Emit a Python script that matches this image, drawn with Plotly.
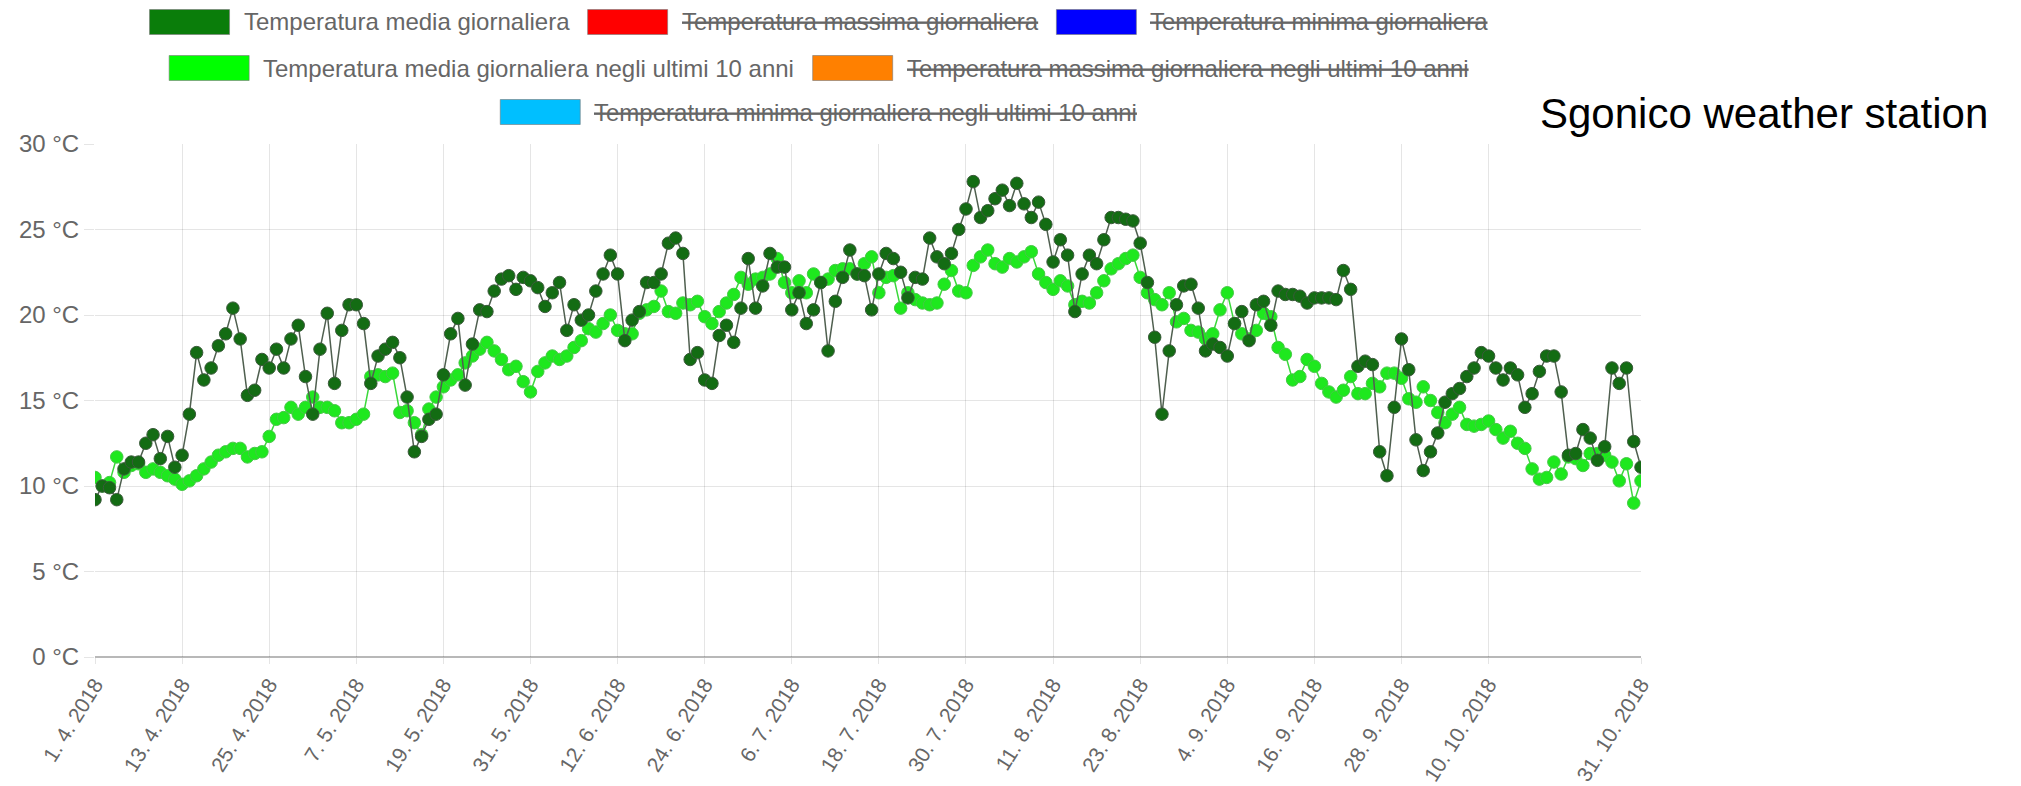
import pandas as pd
import plotly.graph_objects as go

# ── Data ────────────────────────────────────────────────────────────────────
start_date = "2018-04-01"
end_date = "2018-10-31"

temp_media = [
    9.2, 10.0, 9.9, 9.2, 11.0, 11.4, 11.4, 12.5, 13.0, 11.6,
    12.9, 11.1, 11.8, 14.2, 17.8, 16.2, 16.9, 18.2, 18.9, 20.4,
    18.6, 15.3, 15.6, 17.4, 16.9, 18.0, 16.9, 18.6, 19.4, 16.4,
    14.2, 18.0, 20.1, 16.0, 19.1, 20.6, 20.6, 19.5, 16.0, 17.6,
    18.0, 18.4, 17.5, 15.2, 12.0, 12.9, 13.9, 14.2, 16.5, 18.9,
    19.8, 15.9, 18.3, 20.3, 20.2, 21.4, 22.1, 22.3, 21.5, 22.2,
    22.0, 21.6, 20.5, 21.3, 21.9, 19.1, 20.6, 19.7, 20.0, 21.4,
    22.4, 23.5, 22.4, 18.5, 19.7, 20.2, 21.9, 21.9, 22.4, 24.2,
    24.5, 23.6, 17.4, 17.8, 16.2, 16.0, 18.8, 19.4, 18.4, 20.4,
    23.3, 20.4, 21.7, 23.6, 22.8, 22.8, 20.3, 21.3, 19.5, 20.3,
    21.9, 17.9, 20.8, 22.2, 23.8, 22.4, 22.3, 20.3, 22.4, 23.6,
    23.3, 22.5, 21.0, 22.2, 22.1, 24.5, 23.4, 23.0, 23.6, 25.0,
    26.2, 27.8, 25.7, 26.1, 26.8, 27.3, 26.4, 27.7, 26.5, 25.7,
    26.6, 25.3, 23.1, 24.4, 23.5, 20.2, 22.4, 23.5, 23.0, 24.4,
    25.7, 25.7, 25.6, 25.5, 24.2, 21.9, 18.7, 14.2, 17.9, 20.6,
    21.7, 21.8, 20.4, 17.9, 18.3, 18.1, 17.6, 19.5, 20.2, 18.5,
    20.6, 20.8, 19.4, 21.4, 21.2, 21.2, 21.1, 20.7, 21.0, 21.0,
    21.0, 20.9, 22.6, 21.5, 17.0, 17.3, 17.1, 12.0, 10.6, 14.6,
    18.6, 16.8, 12.7, 10.9, 12.0, 13.1, 14.9, 15.4, 15.7, 16.4,
    16.9, 17.8, 17.6, 16.9, 16.2, 16.9, 16.5, 14.6, 15.4, 16.7,
    17.6, 17.6, 15.5, 11.8, 11.9, 13.3, 12.8, 11.5, 12.3, 16.9,
    16.0, 16.9, 12.6, 11.1,
]

temp_media_10anni = [
    10.5, 10.0, 10.2, 11.7, 10.8, 11.2, 11.3, 10.8, 11.0, 10.8,
    10.6, 10.4, 10.1, 10.3, 10.6, 11.0, 11.4, 11.8, 12.0, 12.2,
    12.2, 11.7, 11.9, 12.0, 12.9, 13.9, 14.0, 14.6, 14.2, 14.6,
    15.2, 14.6, 14.6, 14.4, 13.7, 13.7, 13.9, 14.2, 16.4, 16.5,
    16.4, 16.6, 14.3, 14.4, 13.7, 13.0, 14.5, 15.2, 15.8, 16.2,
    16.5, 17.2, 17.6, 18.0, 18.4, 17.9, 17.4, 16.8, 17.0, 16.1,
    15.5, 16.7, 17.2, 17.6, 17.4, 17.6, 18.1, 18.5, 19.2, 19.0,
    19.5, 20.0, 19.1, 18.9, 18.9, 20.1, 20.3, 20.5, 21.4, 20.2,
    20.1, 20.7, 20.6, 20.8, 19.9, 19.5, 20.2, 20.7, 21.2, 22.2,
    21.8, 22.1, 22.2, 22.4, 23.3, 21.9, 21.3, 22.0, 21.3, 22.4,
    21.9, 22.1, 22.6, 22.7, 22.7, 22.4, 23.0, 23.4, 21.3, 22.2,
    22.3, 20.4, 21.3, 20.9, 20.7, 20.6, 20.7, 21.8, 22.6, 21.4,
    21.3, 22.9, 23.4, 23.8, 23.0, 22.8, 23.3, 23.1, 23.4, 23.7,
    22.4, 21.9, 21.5, 22.0, 21.7, 20.6, 20.8, 20.7, 21.3, 22.0,
    22.7, 23.0, 23.3, 23.5, 22.2, 21.3, 20.9, 20.6, 21.3, 19.6,
    19.8, 19.1, 19.0, 18.6, 18.9, 20.3, 21.3, 19.5, 18.9, 18.6,
    19.1, 20.1, 19.9, 18.1, 17.7, 16.2, 16.4, 17.4, 17.0, 16.0,
    15.5, 15.2, 15.6, 16.4, 15.4, 15.4, 16.0, 15.8, 16.6, 16.6,
    16.3, 15.1, 14.9, 15.8, 15.0, 14.3, 13.7, 14.2, 14.6, 13.6,
    13.5, 13.6, 13.8, 13.3, 12.8, 13.2, 12.5, 12.2, 11.0, 10.4,
    10.5, 11.4, 10.7, 11.7, 11.6, 11.2, 11.9, 11.9, 11.8, 11.4,
    10.3, 11.3, 9.0, 10.3,
]

tick_dates = [
    "2018-04-01", "2018-04-13", "2018-04-25", "2018-05-07", "2018-05-19",
    "2018-05-31", "2018-06-12", "2018-06-24", "2018-07-06", "2018-07-18",
    "2018-07-30", "2018-08-11", "2018-08-23", "2018-09-04", "2018-09-16",
    "2018-09-28", "2018-10-10", "2018-10-31",
]
tick_labels = [
    "1. 4. 2018", "13. 4. 2018", "25. 4. 2018", "7. 5. 2018", "19. 5. 2018",
    "31. 5. 2018", "12. 6. 2018", "24. 6. 2018", "6. 7. 2018", "18. 7. 2018",
    "30. 7. 2018", "11. 8. 2018", "23. 8. 2018", "4. 9. 2018", "16. 9. 2018",
    "28. 9. 2018", "10. 10. 2018", "31. 10. 2018",
]
y_ticks = [0, 5, 10, 15, 20, 25, 30]
y_labels = ["0 °C", "5 °C", "10 °C", "15 °C", "20 °C", "25 °C", "30 °C"]

legend_rows = [
    [("Temperatura media giornaliera", "#0a7d0a", False),
     ("Temperatura massima giornaliera", "#ff0000", True),
     ("Temperatura minima giornaliera", "#0000ff", True)],
    [("Temperatura media giornaliera negli ultimi 10 anni", "#00ff00", False),
     ("Temperatura massima giornaliera negli ultimi 10 anni", "#ff8000", True)],
    [("Temperatura minima giornaliera negli ultimi 10 anni", "#00bfff", True)],
]

dates = pd.date_range(start_date, end_date, freq="D")

# ── Geometry (px) ───────────────────────────────────────────────────────────
W, H = 2021, 786
L, R, T, B = 95, 380, 144, 129
PW, PH = W - L - R, H - T - B
FONT = "Arial, Liberation Sans, sans-serif"
GRAY = "#666666"


def px_x(x):
    return (x - L) / PW


def px_y(y):
    return (H - B - y) / PH


fig = go.Figure()

fig.add_trace(go.Scatter(
    x=dates, y=temp_media_10anni, mode="lines+markers",
    line=dict(color="#3ad83a", width=1.5),
    marker=dict(size=12.5, color="#1ee81e", line=dict(color="#46c846", width=1)),
    name="Temperatura media giornaliera negli ultimi 10 anni",
))
fig.add_trace(go.Scatter(
    x=dates, y=temp_media, mode="lines+markers",
    line=dict(color="#4f5f4f", width=1.5),
    marker=dict(size=12.5, color="#136c13", line=dict(color="#3a5a3a", width=1)),
    name="Temperatura media giornaliera",
))

# ── Chart.js-like legend (centred rows) ────────────────────────────────────
FS = 24
BOX_W, BOX_H, GAP, ITEM_GAP = 80, 25, 12, 18
shapes, annotations = [], []


def text_width(s):
    # approximate Arial advance widths
    w = {"T": 611, "e": 556, "m": 833, "p": 556, "r": 333, "a": 556, "t": 278,
         "u": 556, " ": 278, "d": 556, "i": 222, "g": 556, "o": 556, "n": 556,
         "l": 222, "s": 500, "1": 556, "0": 556}
    return sum(w.get(c, 556) for c in s) / 1000 * FS


center_x = 819
row_y = [22, 68, 112]
for row, cy in zip(legend_rows, row_y):
    widths = [BOX_W + GAP + text_width(lbl) for lbl, _, _ in row]
    total = sum(widths) + ITEM_GAP * (len(row) - 1)
    x = center_x - total / 2
    for (lbl, col, hidden), w in zip(row, widths):
        shapes.append(dict(
            type="rect", xref="paper", yref="paper",
            x0=px_x(x), x1=px_x(x + BOX_W),
            y0=px_y(cy + BOX_H / 2), y1=px_y(cy - BOX_H / 2),
            fillcolor=col, line=dict(color="rgba(120,120,120,0.6)", width=1),
        ))
        annotations.append(dict(
            x=px_x(x + BOX_W + GAP), y=px_y(cy), xref="paper", yref="paper",
            xanchor="left", yanchor="middle", showarrow=False,
            text=f"<s>{lbl}</s>" if hidden else lbl,
            font=dict(family=FONT, size=FS, color=GRAY),
        ))
        x += w + ITEM_GAP

annotations.append(dict(
    x=px_x(1538), y=px_y(113), xref="paper", yref="paper",
    xanchor="left", yanchor="middle", showarrow=False,
    text="Sgonico weather station",
    font=dict(family=FONT, size=42, color="#000000"),
))

fig.update_layout(
    width=W, height=H,
    margin=dict(l=L, r=R, t=T, b=B, autoexpand=False),
    paper_bgcolor="white", plot_bgcolor="white",
    showlegend=False,
    font=dict(family=FONT, color=GRAY, size=22),
    shapes=shapes, annotations=annotations,
)

fig.update_xaxes(
    type="date", automargin=False,
    range=[start_date, end_date],
    tickvals=tick_dates, ticktext=tick_labels,
    tickangle=-58,
    tickfont=dict(size=21, color=GRAY),
    showgrid=True, gridcolor="rgba(0,0,0,0.1)", gridwidth=1,
    ticks="outside", ticklen=6, tickcolor="rgba(0,0,0,0.1)",
    showline=False, zeroline=False,
)
fig.update_yaxes(
    automargin=False,
    range=[0, 30], tickvals=y_ticks, ticktext=y_labels,
    tickfont=dict(size=24, color=GRAY),
    showgrid=True, gridcolor="rgba(0,0,0,0.1)", gridwidth=1,
    ticks="outside", ticklen=10, tickcolor="rgba(0,0,0,0.1)",
    zeroline=True, zerolinecolor="rgba(0,0,0,0.28)", zerolinewidth=2,
    showline=False,
)

# page body margin would shift the figure by 8px, drop it
fig.write_html(
    "out.html",
    config={"displayModeBar": False},
    post_script="document.body.style.margin='0';",
)
